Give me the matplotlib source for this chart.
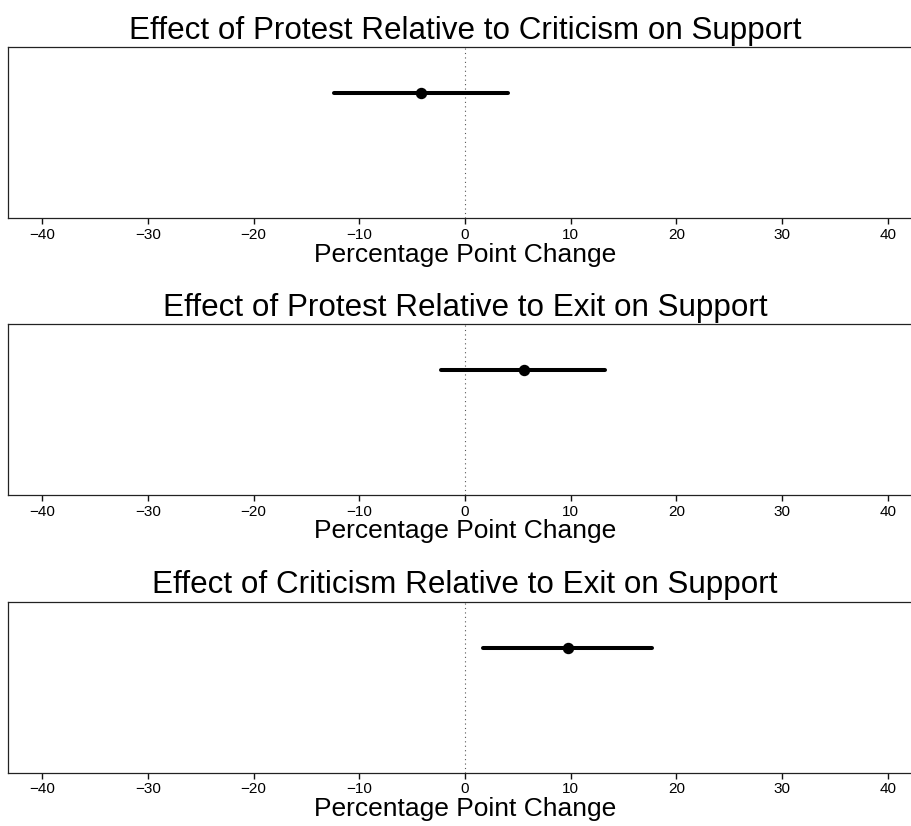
import matplotlib
matplotlib.use("Agg")
import matplotlib.pyplot as plt

titles = [
    "Effect of Protest Relative to Criticism on Support",
    "Effect of Protest Relative to Exit on Support",
    "Effect of Criticism Relative to Exit on Support",
]
estimates = [-4.2, 5.55, 9.7]
lower = [-12.4, -2.25, 1.75]
upper = [4.05, 13.25, 17.7]
xticks = [-40, -30, -20, -10, 0, 10, 20, 30, 40]
xlabel = "Percentage Point Change"

plt.rcParams['font.family'] = ['Liberation Sans', 'DejaVu Sans']

W, H = 912, 826
fig = plt.figure(figsize=(W / 100, H / 100), dpi=100)

tops = [47.3, 324.0, 601.7]
box_h = 171.0
left_px = 8.5
width_px = 913.0

for i in range(3):
    top = tops[i]
    bottom = top + box_h
    ax = fig.add_axes([left_px / W, (H - bottom) / H, width_px / W, box_h / H])
    ax.set_xlim(-43.2, 43.2)
    ax.set_ylim(0, 1)
    yv = 1 - 46.0 / box_h
    ax.axvline(0, color='#555555', lw=0.8, ls=(0, (1, 3)))
    ax.plot([lower[i], upper[i]], [yv, yv], color='black', lw=2.9,
            solid_capstyle='round')
    ax.plot([estimates[i]], [yv], 'o', color='black', markersize=7.2)
    ax.set_xticks(xticks)
    ax.set_xticklabels(["\u2212" + str(-t) if t < 0 else str(t) for t in xticks])
    ax.set_yticks([])
    ax.tick_params(axis='x', which='major', bottom=True, direction='out',
                   length=4.0, width=1.0, labelsize=11, pad=3.0,
                   color='#111111')
    for s in ax.spines.values():
        s.set_linewidth(0.9)
        s.set_color('#222222')
    ax.set_xlabel(xlabel, fontsize=19, labelpad=0.5)
    ax.set_title(titles[i], fontsize=22.6, pad=6)

fig.savefig("out.png", dpi=100)
